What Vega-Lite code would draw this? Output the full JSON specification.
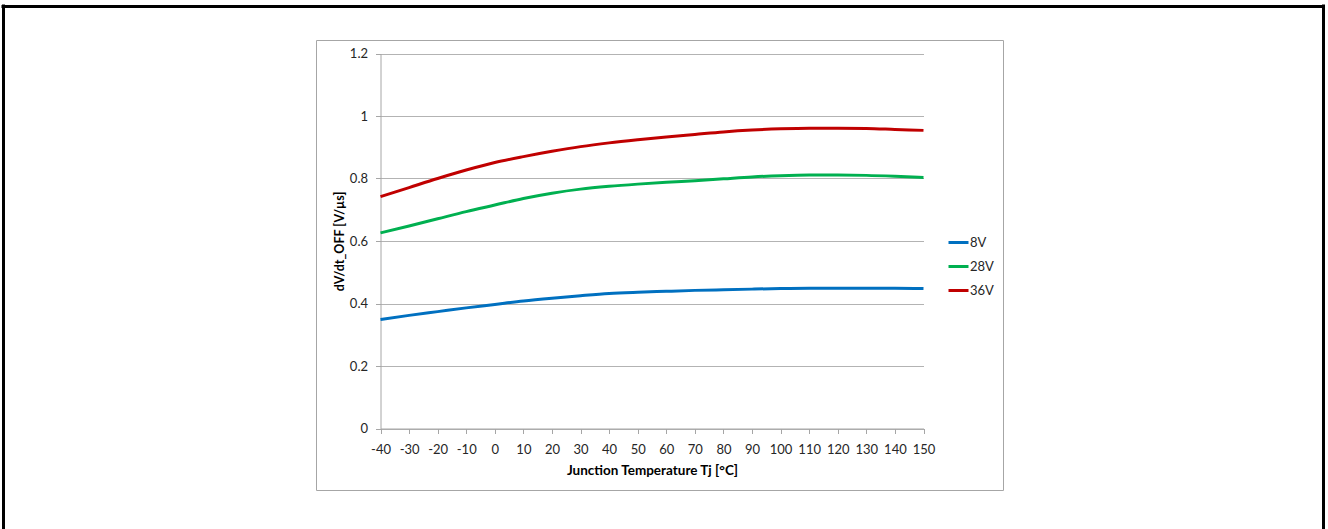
{
  "$schema": "https://vega.github.io/schema/vega-lite/v6.json",
  "background": "white",
  "padding": {"left": 3, "top": 6, "right": 0, "bottom": 0},
  "width": 687,
  "height": 450,
  "view": {"stroke": "#a6a6a6", "strokeWidth": 1},
  "config": {
    "axis": {
      "labelFont": "Lato", "labelFontSize": 13, "labelColor": "#262626",
      "titleFont": "Lato", "titleFontSize": 12.5, "titleFontWeight": "bold", "titleColor": "#000000",
      "domainColor": "#a6a6a6", "tickColor": "#a6a6a6", "gridColor": "#b3b3b3",
      "tickSize": 5, "labelFlush": false, "labelOverlap": false
    },
    "legend": {"labelFont": "Lato", "labelFontSize": 13, "labelColor": "#262626"}
  },
  "resolve": {"scale": {"x": "independent", "y": "independent"}},
  "layer": [
    {
      "data": {"values": [
        {"T": -40, "V": 0.349, "S": "8V"}, {"T": -30, "V": 0.362, "S": "8V"}, {"T": -20, "V": 0.374, "S": "8V"}, {"T": -10, "V": 0.386, "S": "8V"},
        {"T": 0, "V": 0.397, "S": "8V"}, {"T": 10, "V": 0.408, "S": "8V"}, {"T": 20, "V": 0.417, "S": "8V"}, {"T": 30, "V": 0.425, "S": "8V"},
        {"T": 40, "V": 0.432, "S": "8V"}, {"T": 50, "V": 0.436, "S": "8V"}, {"T": 60, "V": 0.439, "S": "8V"}, {"T": 70, "V": 0.442, "S": "8V"},
        {"T": 80, "V": 0.444, "S": "8V"}, {"T": 90, "V": 0.446, "S": "8V"}, {"T": 100, "V": 0.448, "S": "8V"}, {"T": 110, "V": 0.449, "S": "8V"},
        {"T": 120, "V": 0.449, "S": "8V"}, {"T": 130, "V": 0.449, "S": "8V"}, {"T": 140, "V": 0.449, "S": "8V"}, {"T": 150, "V": 0.448, "S": "8V"},
        {"T": -40, "V": 0.626, "S": "28V"}, {"T": -30, "V": 0.648, "S": "28V"}, {"T": -20, "V": 0.671, "S": "28V"}, {"T": -10, "V": 0.694, "S": "28V"},
        {"T": 0, "V": 0.715, "S": "28V"}, {"T": 10, "V": 0.736, "S": "28V"}, {"T": 20, "V": 0.753, "S": "28V"}, {"T": 30, "V": 0.766, "S": "28V"},
        {"T": 40, "V": 0.775, "S": "28V"}, {"T": 50, "V": 0.782, "S": "28V"}, {"T": 60, "V": 0.788, "S": "28V"}, {"T": 70, "V": 0.793, "S": "28V"},
        {"T": 80, "V": 0.799, "S": "28V"}, {"T": 90, "V": 0.805, "S": "28V"}, {"T": 100, "V": 0.809, "S": "28V"}, {"T": 110, "V": 0.811, "S": "28V"},
        {"T": 120, "V": 0.811, "S": "28V"}, {"T": 130, "V": 0.810, "S": "28V"}, {"T": 140, "V": 0.807, "S": "28V"}, {"T": 150, "V": 0.803, "S": "28V"},
        {"T": -40, "V": 0.742, "S": "36V"}, {"T": -30, "V": 0.771, "S": "36V"}, {"T": -20, "V": 0.800, "S": "36V"}, {"T": -10, "V": 0.827, "S": "36V"},
        {"T": 0, "V": 0.851, "S": "36V"}, {"T": 10, "V": 0.870, "S": "36V"}, {"T": 20, "V": 0.887, "S": "36V"}, {"T": 30, "V": 0.902, "S": "36V"},
        {"T": 40, "V": 0.914, "S": "36V"}, {"T": 50, "V": 0.924, "S": "36V"}, {"T": 60, "V": 0.933, "S": "36V"}, {"T": 70, "V": 0.941, "S": "36V"},
        {"T": 80, "V": 0.949, "S": "36V"}, {"T": 90, "V": 0.955, "S": "36V"}, {"T": 100, "V": 0.959, "S": "36V"}, {"T": 110, "V": 0.961, "S": "36V"},
        {"T": 120, "V": 0.961, "S": "36V"}, {"T": 130, "V": 0.960, "S": "36V"}, {"T": 140, "V": 0.957, "S": "36V"}, {"T": 150, "V": 0.954, "S": "36V"}
      ]},
      "mark": {"type": "line", "interpolate": "monotone", "strokeWidth": 3},
      "encoding": {
        "x": {
          "field": "T", "type": "quantitative",
          "scale": {"domain": [-40, 150], "range": [64.5, 607.5], "nice": false, "zero": false},
          "axis": {
            "title": "Junction Temperature Tj [°C]",
            "values": [-40, -30, -20, -10, 0, 10, 20, 30, 40, 50, 60, 70, 80, 90, 100, 110, 120, 130, 140, 150],
            "labelExpr": "'' + datum.value",
            "grid": false, "offset": -61.5, "labelPadding": 10, "titlePadding": 7, "titleFontSize": 13.5
          }
        },
        "y": {
          "field": "V", "type": "quantitative",
          "scale": {"domain": [0, 1.2], "range": [388.5, 13.5], "nice": false},
          "axis": {
            "title": "dV/dt_OFF [V/µs]",
            "values": [0, 0.2, 0.4, 0.6, 0.8, 1, 1.2],
            "labelExpr": "'' + datum.value",
            "grid": true, "offset": -64.5, "labelPadding": 8, "titlePadding": 3
          }
        },
        "color": {
          "field": "S", "type": "nominal",
          "scale": {"domain": ["8V", "28V", "36V"], "range": ["#0070c0", "#00b050", "#c00000"]},
          "legend": {
            "title": null, "orient": "none", "legendX": 631, "legendY": 191,
            "symbolType": "stroke", "symbolSize": 400, "symbolStrokeWidth": 3,
            "rowPadding": 5, "labelOffset": 0, "padding": 0
          }
        }
      }
    },
    {
      "data": {"values": []},
      "mark": {"type": "point"},
      "encoding": {
        "x": {
          "field": "fx", "type": "quantitative",
          "scale": {"domain": [0, 1], "range": [-315, 1008.5], "nice": false, "zero": false},
          "axis": {"orient": "top", "offset": 34, "domainColor": "#000000", "domainWidth": 3, "ticks": false, "labels": false, "title": null, "grid": false}
        },
        "y": {
          "field": "fy", "type": "quantitative",
          "scale": {"domain": [0, 1], "range": [499.5, -36], "nice": false, "zero": false},
          "axis": {"orient": "left", "offset": 313, "domainColor": "#000000", "domainWidth": 3, "ticks": false, "labels": false, "title": null, "grid": false}
        }
      }
    },
    {
      "data": {"values": []},
      "mark": {"type": "point"},
      "encoding": {
        "y": {
          "field": "gy", "type": "quantitative",
          "scale": {"domain": [0, 1], "range": [499.5, -36], "nice": false, "zero": false},
          "axis": {"orient": "right", "offset": 320, "domainColor": "#000000", "domainWidth": 3, "ticks": false, "labels": false, "title": null, "grid": false}
        }
      }
    }
  ]
}
